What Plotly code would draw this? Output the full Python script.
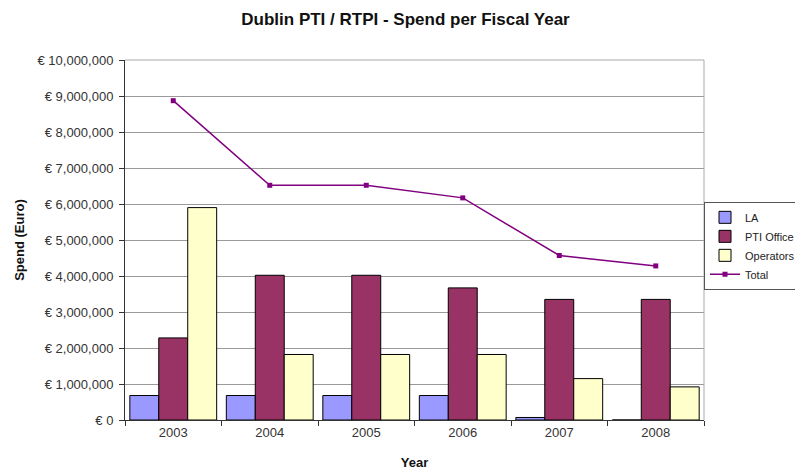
import plotly.graph_objects as go

years = ["2003", "2004", "2005", "2006", "2007", "2008"]
la = [680000, 680000, 680000, 680000, 70000, 0]
pti_office = [2280000, 4020000, 4020000, 3670000, 3350000, 3350000]
operators = [5900000, 1820000, 1820000, 1820000, 1150000, 920000]
total = [8870000, 6520000, 6520000, 6170000, 4570000, 4280000]

y_tickvals = [0, 1000000, 2000000, 3000000, 4000000, 5000000, 6000000, 7000000, 8000000, 9000000, 10000000]
y_ticktext = ["€ 0", "€ 1,000,000", "€ 2,000,000", "€ 3,000,000", "€ 4,000,000", "€ 5,000,000",
              "€ 6,000,000", "€ 7,000,000", "€ 8,000,000", "€ 9,000,000", "€ 10,000,000"]

font = "Arial, Liberation Sans, sans-serif"

fig = go.Figure()
fig.add_trace(go.Bar(x=years, y=la, name="LA",
                     marker=dict(color="#9999FF", line=dict(color="#000000", width=1))))
fig.add_trace(go.Bar(x=years, y=pti_office, name="PTI Office",
                     marker=dict(color="#993366", line=dict(color="#000000", width=1))))
fig.add_trace(go.Bar(x=years, y=operators, name="Operators",
                     marker=dict(color="#FFFFCC", line=dict(color="#000000", width=1))))
fig.add_trace(go.Scatter(x=years, y=total, name="Total", mode="lines+markers",
                         line=dict(color="#800080", width=1.5),
                         marker=dict(symbol="square", size=5, color="#800080")))

# The page body has an 8px default margin, so the figure is sized to fill the rest.
fig.update_layout(
    width=795, height=463,
    margin=dict(l=117, r=99, t=52, b=51, autoexpand=False),
    paper_bgcolor="white", plot_bgcolor="white",
    font=dict(family=font, size=13, color="#333333"),
    title=dict(text="<b>Dublin PTI / RTPI - Spend per Fiscal Year</b>", x=0.5, xanchor="center",
               y=0.977, yanchor="middle", font=dict(size=17, color="#111111", family=font)),
    barmode="group", bargap=0.1, bargroupgap=0,
    showlegend=True,
    legend=dict(x=1.0, y=0.606, xanchor="left", yanchor="top",
                bordercolor="#555555", borderwidth=1, bgcolor="white",
                font=dict(size=11, color="#222222"), tracegroupgap=0,
                itemwidth=30),
    xaxis=dict(title=dict(text="<b>Year</b>", font=dict(size=13, color="#111111"), standoff=19),
               automargin=False,
               showline=True, linecolor="#333333", linewidth=1,
               ticks="outside", tickson="boundaries", ticklen=5, tickcolor="#333333",
               showgrid=False, mirror=False),
    yaxis=dict(title=dict(text="<b>Spend (Euro)</b>", font=dict(size=13, color="#111111"), standoff=9),
               automargin=False,
               range=[0, 10000000], tickvals=y_tickvals, ticktext=y_ticktext,
               ticklabelstandoff=3,
               showline=True, linecolor="#333333", linewidth=1,
               ticks="outside", ticklen=5, tickcolor="#333333",
               showgrid=True, gridcolor="#9a9a9a", gridwidth=1, zeroline=False),
)

# gray border on top and right of plot area
fig.add_shape(type="line", xref="paper", yref="paper", x0=0, x1=1, y0=1, y1=1,
              line=dict(color="#aaaaaa", width=1))
fig.add_shape(type="line", xref="paper", yref="paper", x0=1, x1=1, y0=0, y1=1,
              line=dict(color="#aaaaaa", width=1))

fig.write_html("out.html")
